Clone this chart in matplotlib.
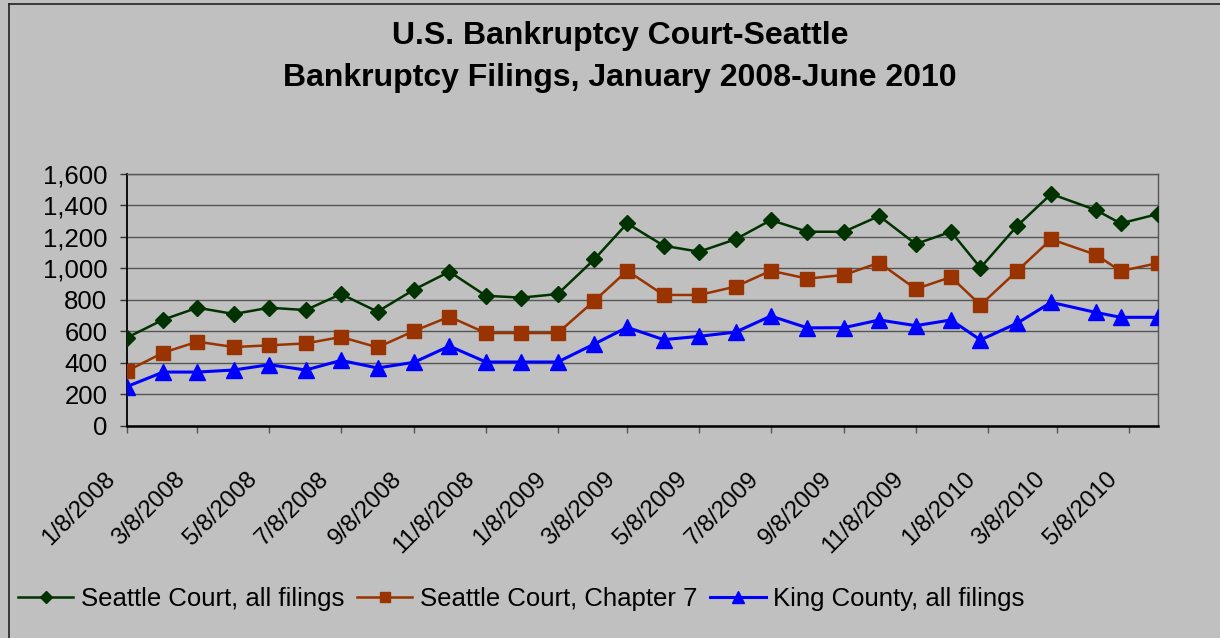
import matplotlib
matplotlib.use("Agg")
import matplotlib.pyplot as plt
import matplotlib.transforms as mtransforms
from matplotlib.lines import Line2D
from matplotlib.ticker import FuncFormatter, MultipleLocator
import pandas as pd

plt.rcParams['font.family'] = ['Liberation Sans', 'DejaVu Sans']

# ---------------- data ----------------
dates = [
    "2008-01-08", "2008-02-08", "2008-03-08", "2008-04-08", "2008-05-08", "2008-06-08",
    "2008-07-08", "2008-08-08", "2008-09-08", "2008-10-08", "2008-11-08", "2008-12-08",
    "2009-01-08", "2009-02-08", "2009-03-08", "2009-04-08", "2009-05-08", "2009-06-08",
    "2009-07-08", "2009-08-08", "2009-09-08", "2009-10-08", "2009-11-08", "2009-12-08",
    "2010-01-02", "2010-02-02", "2010-03-03", "2010-04-10", "2010-05-01", "2010-06-02",
]
seattle_all = [559, 674, 750, 710, 750, 735, 837, 725, 865, 979, 826, 814, 837, 1057, 1286,
               1144, 1106, 1185, 1307, 1233, 1233, 1333, 1155, 1233, 1004, 1269, 1473, 1371,
               1286, 1346]
seattle_ch7 = [347, 464, 534, 500, 511, 523, 564, 498, 602, 693, 589, 589, 589, 793, 985,
               831, 831, 884, 985, 935, 958, 1036, 869, 945, 767, 983, 1185, 1087, 983, 1034]
king_all = [248, 341, 341, 354, 388, 354, 415, 367, 403, 506, 405, 405, 405, 519, 625,
            547, 568, 595, 697, 622, 623, 672, 636, 672, 545, 651, 784, 720, 689, 689]

series_names = ["Seattle Court, all filings", "Seattle Court, Chapter 7", "King County, all filings"]
tick_labels = ["1/8/2008", "3/8/2008", "5/8/2008", "7/8/2008", "9/8/2008", "11/8/2008",
               "1/8/2009", "3/8/2009", "5/8/2009", "7/8/2009", "9/8/2009", "11/8/2009",
               "1/8/2010", "3/8/2010", "5/8/2010"]
title_lines = ["U.S. Bankruptcy Court-Seattle", "Bankruptcy Filings, January 2008-June 2010"]

# ---------------- figure ----------------
W, H = 1220, 638
BG = '#C0C0C0'
fig = plt.figure(figsize=(W / 100, H / 100), dpi=100, facecolor=BG)
ax = fig.add_axes([126.7 / W, 1 - 425.7 / H, (1158.3 - 126.7) / W, (425.7 - 174) / H])
ax.set_facecolor(BG)

x = pd.to_datetime(dates)
ax.plot(x, seattle_all, color='#003300', lw=1.8, marker='D', ms=8.0, mew=1,
        mec='#003300', mfc='#003300', label=series_names[0], zorder=5)
ax.plot(x, seattle_ch7, color='#993300', lw=1.8, marker='s', ms=9.5, mew=1,
        mec='#993300', mfc='#993300', label=series_names[1], zorder=4)
ax.plot(x, king_all, color='#0000FF', lw=2.2, marker='^', ms=11.0, mew=1,
        mec='#0000FF', mfc='#0000FF', label=series_names[2], zorder=3)

ax.set_ylim(0, 1600)
ax.yaxis.set_major_locator(MultipleLocator(200))
ax.yaxis.set_major_formatter(FuncFormatter(lambda v, p: f"{int(v):,}"))
ax.set_xlim(x[0], x[-1])

tick_dates = pd.to_datetime(tick_labels, format="%m/%d/%Y")
ax.set_xticks(tick_dates)
ax.set_xticklabels([])
lbl_trans = ax.get_xaxis_transform() + mtransforms.ScaledTranslation(
    -0.11, -0.54, fig.dpi_scale_trans)
for d, t in zip(tick_dates, tick_labels):
    ax.text(d, 0, t, transform=lbl_trans, rotation=45, ha='right', va='baseline',
            rotation_mode='anchor', fontsize=17.3, color='black', clip_on=False)

ax.yaxis.grid(True, color='#555555', lw=1)
ax.set_axisbelow(True)
ax.tick_params(axis='y', direction='out', length=5, width=1, color='#333333',
               pad=9, labelsize=18.5, labelcolor='black')
ax.tick_params(axis='x', direction='out', length=5, width=1, color='#555555')

for s in ('top', 'right'):
    ax.spines[s].set_color('#555555')
    ax.spines[s].set_linewidth(1)
ax.spines['left'].set_color('black')
ax.spines['left'].set_linewidth(1.3)
ax.spines['bottom'].set_color('black')
ax.spines['bottom'].set_linewidth(1.8)

# title
fig.text(620 / W, 1 - 44.3 / H, title_lines[0], ha='center', va='baseline',
         fontsize=23, fontweight='bold')
fig.text(620 / W, 1 - 86 / H, title_lines[1], ha='center', va='baseline',
         fontsize=23, fontweight='bold')

# legend
fig.legend(loc='center left', bbox_to_anchor=(18 / W, 1 - 599 / H), ncol=3,
           frameon=False, fontsize=18.5, handlelength=2.15, handletextpad=0.3,
           columnspacing=0.5, borderpad=0, borderaxespad=0, markerscale=0.75)

# chart-area border (top and left visible)
fig.add_artist(Line2D([8.5 / W, 1], [1 - 4 / H, 1 - 4 / H], color='#222222', lw=1.2,
                      transform=fig.transFigure))
fig.add_artist(Line2D([8.5 / W, 8.5 / W], [0, 1 - 4 / H], color='#222222', lw=1.2,
                      transform=fig.transFigure))

fig.savefig('out.png', dpi=100, facecolor=BG)
